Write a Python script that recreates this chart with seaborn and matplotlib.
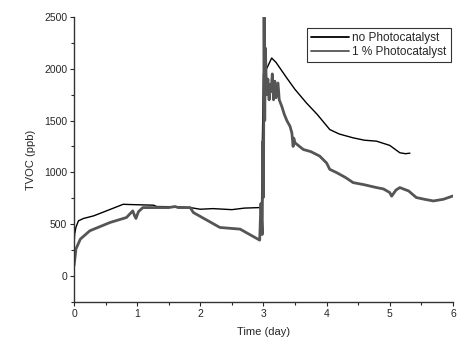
import numpy as np
import pandas as pd
import matplotlib
matplotlib.use("Agg")
import matplotlib.pyplot as plt
import seaborn as sns
from matplotlib.ticker import MultipleLocator

# values (time in day, TVOC in ppb)
t_none = [0.0, 0.01, 0.03, 0.07, 0.15, 0.31, 0.5, 0.78, 0.85, 1.26, 1.31, 1.6, 1.84,
          2.0, 2.2, 2.5, 2.7, 2.94, 2.96, 2.97, 2.98, 3.0, 3.05, 3.13, 3.2, 3.37,
          3.5, 3.68, 3.85, 4.05, 4.2, 4.42, 4.6, 4.79, 5.0, 5.16, 5.25, 5.32]
v_none = [300, 404, 470, 532, 555, 580, 625, 692, 690, 683, 670, 668, 660,
          644, 650, 640, 655, 660, 650, 700, 1200, 1950, 2000, 2103, 2060, 1910,
          1800, 1670, 1560, 1413, 1370, 1333, 1310, 1301, 1260, 1189, 1180, 1185]

t_cat = [0.0, 0.02, 0.03, 0.1, 0.25, 0.57, 0.83, 0.93, 0.96, 0.98, 1.02, 1.09, 1.5,
         1.6, 1.65, 1.84, 1.89, 2.1, 2.31, 2.63, 2.94, 2.96, 2.98, 2.99, 3.0, 3.01,
         3.02, 3.03, 3.05, 3.07, 3.09, 3.1, 3.12, 3.14, 3.16, 3.18, 3.2, 3.23, 3.25,
         3.29, 3.33, 3.37, 3.42, 3.45, 3.47, 3.48, 3.5, 3.63, 3.75, 3.89, 4.0, 4.05,
         4.16, 4.3, 4.42, 4.6, 4.79, 4.9, 5.0, 5.03, 5.1, 5.16, 5.3, 5.42, 5.55,
         5.69, 5.85, 6.0]
v_cat = [100, 200, 260, 356, 436, 516, 564, 628, 580, 555, 620, 660, 660,
         670, 660, 660, 612, 540, 468, 452, 346, 700, 400, 1300, 760, 2500,
         1500, 2200, 1750, 1900, 1700, 1850, 1780, 1950, 1700, 1880, 1720, 1862, 1700,
         1637, 1560, 1500, 1445, 1380, 1250, 1330, 1285, 1221, 1200, 1157, 1090, 1029,
         997, 950, 901, 880, 853, 840, 805, 770, 830, 853, 820, 757, 740,
         724, 740, 772]

labels = ["no Photocatalyst", "1 % Photocatalyst"]

df = pd.concat([
    pd.DataFrame({"Time": t_none, "TVOC": v_none, "series": labels[0]}),
    pd.DataFrame({"Time": t_cat, "TVOC": v_cat, "series": labels[1]}),
])

sns.set_style("ticks")
plt.rcParams["font.family"] = ["Liberation Sans", "DejaVu Sans"]

fig = plt.figure(figsize=(4.57, 3.45), dpi=100)
ax = fig.add_axes([0.162, 0.125, 0.829, 0.826])

sns.lineplot(data=df, x="Time", y="TVOC", hue="series", size="series",
             palette={labels[0]: "#000000", labels[1]: "#555555"},
             sizes={labels[0]: 1.0, labels[1]: 2.0},
             sort=False, estimator=None, ax=ax)

ax.set_xlim(0, 6)
ax.set_ylim(-250, 2500)
ax.xaxis.set_major_locator(MultipleLocator(1))
ax.xaxis.set_minor_locator(MultipleLocator(0.5))
ax.yaxis.set_major_locator(MultipleLocator(500))
ax.yaxis.set_minor_locator(MultipleLocator(250))
ax.tick_params(which="major", length=3, width=0.8, labelsize=7.5, pad=2)
ax.tick_params(which="minor", length=2, width=0.8)
sns.despine(ax=ax)
for s in ["left", "bottom"]:
    ax.spines[s].set_linewidth(1.0)
    ax.spines[s].set_color("#333333")

ax.set_xlabel("Time (day)", fontsize=8, labelpad=6)
ax.set_ylabel("TVOC (ppb)", fontsize=8, labelpad=6)

leg = ax.legend(loc="upper right", bbox_to_anchor=(1.0, 0.97), fontsize=8.5,
                frameon=True, fancybox=False, edgecolor="#000000",
                handlelength=3.2, borderpad=0.35, labelspacing=0.2,
                handletextpad=0.3, borderaxespad=0.2)
leg.get_frame().set_linewidth(0.8)
for line in leg.get_lines():
    line.set_linewidth(1.3)

fig.savefig("out.png", dpi=100)
